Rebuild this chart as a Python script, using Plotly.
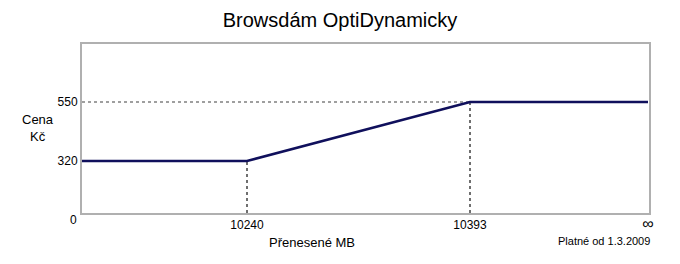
import plotly.graph_objects as go

# ---- data ----
x_labels = ["0", "10240", "10393", "∞"]          # transferred MB breakpoints
prices = [320, 320, 550, 550]                     # price (Kč) at each breakpoint
y_tick_labels = ["320", "550"]

# schematic (non-linear) axis slots used by the original chart
x_slot = {"0": 0, "10240": 165, "10393": 388, "∞": 566}
y_slot = {0: 0, 320: 52, 550: 111}
X_MAX, Y_MAX = 567, 169

xs = [x_slot[l] for l in x_labels]
ys = [y_slot[p] for p in prices]

FONT = "Liberation Sans, Arial, sans-serif"
NAVY = "#10105c"
DOT = "#404040"

fig = go.Figure()
fig.add_trace(go.Scatter(x=xs, y=ys, mode="lines",
                         line=dict(color=NAVY, width=2.5),
                         hoverinfo="skip", showlegend=False))

shapes = [
    dict(type="line", xref="x", yref="y", x0=0, x1=x_slot["10393"],
         y0=y_slot[550], y1=y_slot[550], line=dict(color=DOT, width=1.2, dash="dot"), layer="below"),
    dict(type="line", xref="x", yref="y", x0=x_slot["10240"], x1=x_slot["10240"],
         y0=0, y1=y_slot[320], line=dict(color=DOT, width=1.5, dash="dot"), layer="below"),
    dict(type="line", xref="x", yref="y", x0=x_slot["10393"], x1=x_slot["10393"],
         y0=0, y1=y_slot[550], line=dict(color=DOT, width=1.5, dash="dot"), layer="below"),
]

tick_text = [t if t != "∞" else '<span style="font-size:16px">∞</span>' for t in x_labels[1:]]

fig.update_layout(
    width=680, height=264,
    margin=dict(l=82, r=31, t=44, b=51),
    paper_bgcolor="white", plot_bgcolor="white",
    font=dict(family=FONT, size=12, color="#000000"),
    title=dict(text="Browsdám OptiDynamicky", x=0.5, xanchor="center",
               y=1 - 20 / 264, yanchor="middle", font=dict(size=20, family=FONT)),
    shapes=shapes,
    xaxis=dict(range=[0, X_MAX], showgrid=False, zeroline=False,
               showline=True, mirror=True, linecolor="#b0b0b0", linewidth=2,
               tickmode="array", tickvals=[x_slot[l] for l in x_labels[1:]],
               ticktext=tick_text, ticks="", tickfont=dict(size=12)),
    yaxis=dict(range=[0, Y_MAX], showgrid=False, zeroline=False,
               showline=True, mirror=True, linecolor="#b0b0b0", linewidth=2,
               tickmode="array", tickvals=[y_slot[int(v)] for v in y_tick_labels],
               ticktext=y_tick_labels, ticks="", tickfont=dict(size=12)),
    annotations=[
        dict(text="0", xref="paper", yref="paper", x=0, y=0, xshift=-9, yshift=-7,
             showarrow=False, font=dict(size=12), xanchor="center", yanchor="middle"),
        dict(text="Cena", xref="paper", yref="paper", x=0, y=0,
             xshift=-44, yshift=213 - 119, showarrow=False, font=dict(size=13),
             xanchor="center", yanchor="middle"),
        dict(text="Kč", xref="paper", yref="paper", x=0, y=0,
             xshift=-44, yshift=213 - 136, showarrow=False, font=dict(size=13),
             xanchor="center", yanchor="middle"),
        dict(text="Přenesené MB", xref="paper", yref="paper", x=(312 - 82) / 567, y=0,
             yshift=-29, showarrow=False, font=dict(size=13),
             xanchor="center", yanchor="middle"),
        dict(text="Platné od 1.3.2009", xref="paper", yref="paper", x=1, y=0,
             xshift=3, yshift=-28, showarrow=False, font=dict(size=11),
             xanchor="right", yanchor="middle"),
    ],
)

fig.write_html("out.html")
